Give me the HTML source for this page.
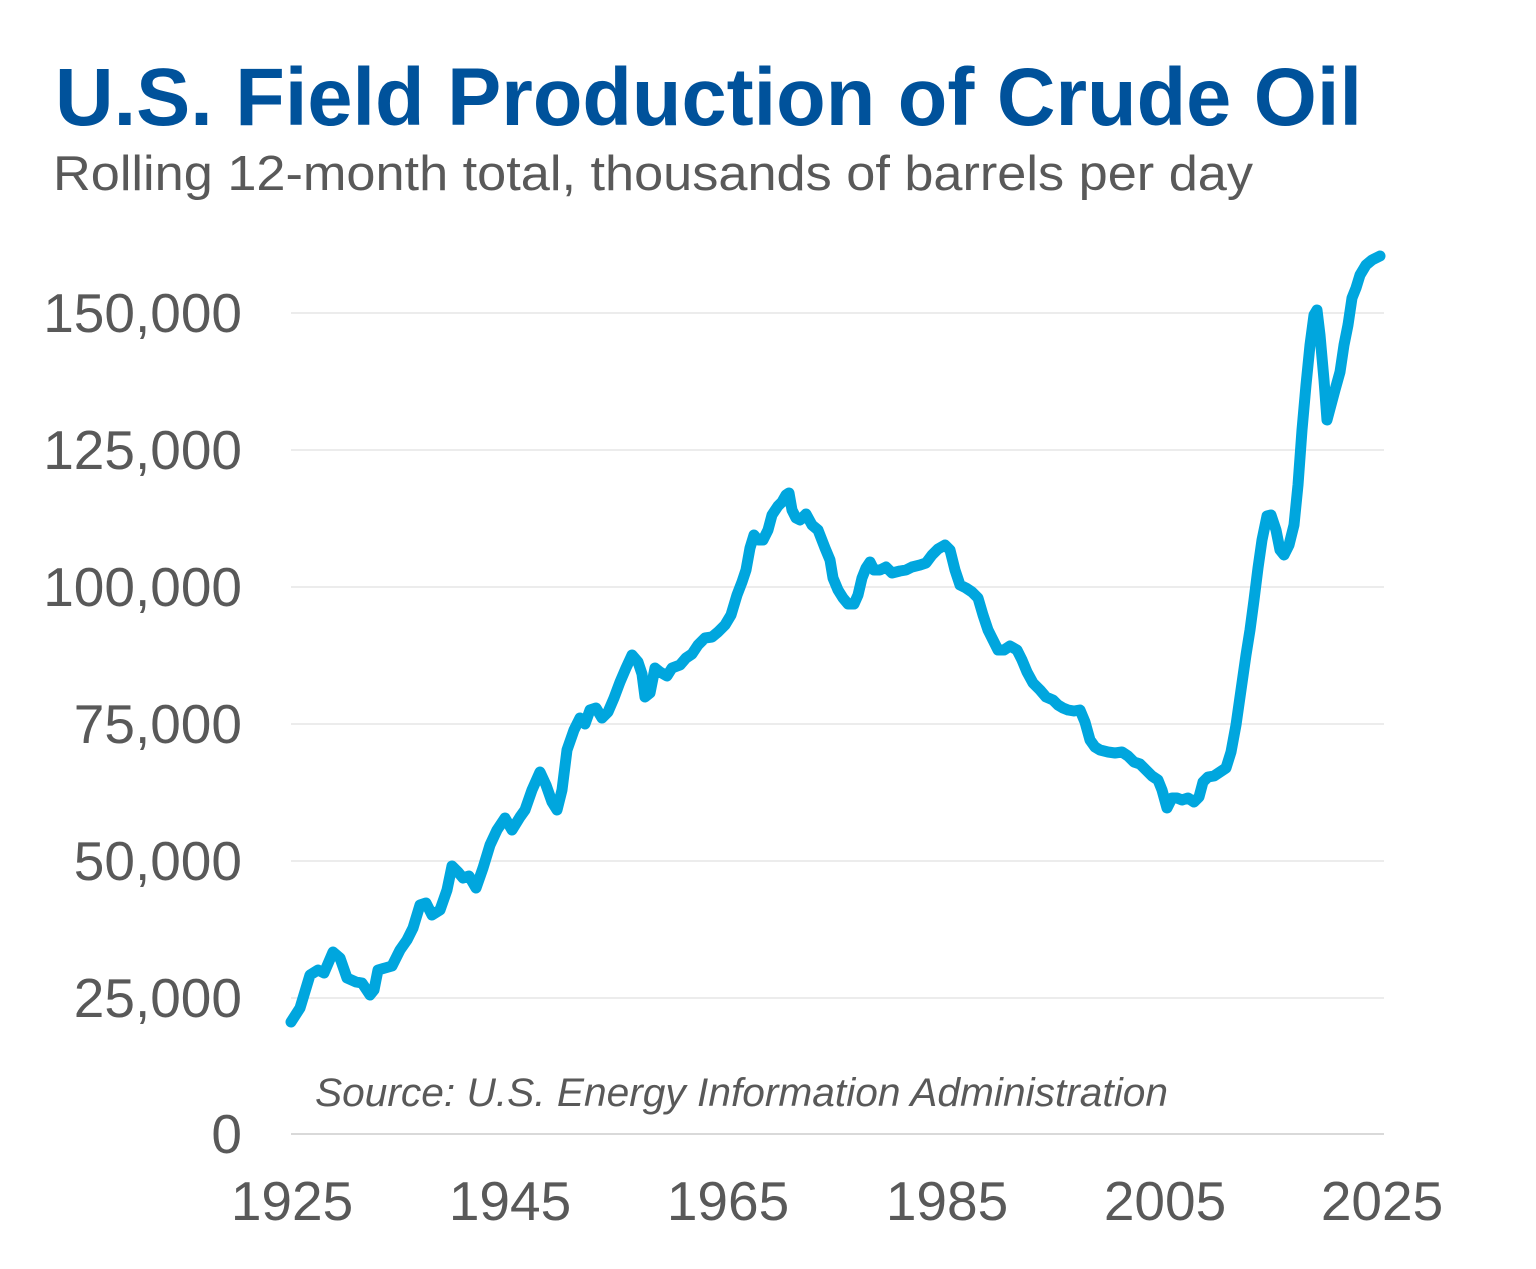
<!DOCTYPE html>
<html><head><meta charset="utf-8"><style>
html,body{margin:0;padding:0;background:#fff;}
svg{display:block;}
text{font-family:"Liberation Sans",Arial,sans-serif;}
</style></head><body>
<svg width="1536" height="1269" viewBox="0 0 1536 1269" xmlns="http://www.w3.org/2000/svg">
<rect width="1536" height="1269" fill="#fff"/>
<text x="55" y="125" font-size="82" font-weight="bold" fill="#00529b" textLength="1307" lengthAdjust="spacingAndGlyphs">U.S. Field Production of Crude Oil</text>
<text x="53" y="190" font-size="49" fill="#595959" textLength="1200" lengthAdjust="spacingAndGlyphs">Rolling 12-month total, thousands of barrels per day</text>
<g stroke="#ececec" stroke-width="2">
<line x1="291" y1="998" x2="1384" y2="998"/>
<line x1="291" y1="861" x2="1384" y2="861"/>
<line x1="291" y1="724" x2="1384" y2="724"/>
<line x1="291" y1="587" x2="1384" y2="587"/>
<line x1="291" y1="450" x2="1384" y2="450"/>
<line x1="291" y1="313" x2="1384" y2="313"/>
</g>
<line x1="291" y1="1134" x2="1384" y2="1134" stroke="#d9d9d9" stroke-width="2"/>
<g font-size="55" fill="#595959" text-anchor="end">
<text x="242" y="1153">0</text>
<text x="242" y="1017">25,000</text>
<text x="242" y="880">50,000</text>
<text x="242" y="743">75,000</text>
<text x="242" y="606">100,000</text>
<text x="242" y="469">125,000</text>
<text x="242" y="332">150,000</text>
</g>
<g font-size="55" fill="#595959" text-anchor="middle">
<text x="292" y="1220">1925</text>
<text x="510" y="1220">1945</text>
<text x="728" y="1220">1965</text>
<text x="947" y="1220">1985</text>
<text x="1165" y="1220">2005</text>
<text x="1382" y="1220">2025</text>
</g>
<text x="315" y="1106" font-size="40" font-style="italic" fill="#595959" textLength="853" lengthAdjust="spacingAndGlyphs">Source: U.S. Energy Information Administration</text>
<polyline fill="none" stroke="#00a6de" stroke-width="11" stroke-linejoin="round" stroke-linecap="round" points="291,1022 300,1008 310,975 318,970 324,973 333,952 340,958 347,978 356,982 362,983 370,995 374,990 378,970 385,968 392,966 400,950 407,940 413,928 420,905 426,903 432,915 440,910 447,890 452,866 458,872 463,878 469,876 476,888 483,868 490,845 497,830 505,818 512,830 520,817 525,810 532,790 540,772 546,785 552,802 557,810 562,790 567,750 574,730 580,718 585,724 590,710 596,708 602,718 608,712 614,698 620,682 626,668 632,655 638,662 642,674 645,697 650,693 655,668 660,672 667,676 672,668 680,665 686,658 692,654 698,645 705,638 712,637 718,632 725,625 731,615 737,595 742,582 746,570 750,548 754,535 758,540 763,540 768,530 772,515 778,506 782,502 786,495 789,493 792,510 796,518 800,520 806,514 812,525 818,530 825,548 830,560 833,578 838,590 843,598 848,604 854,604 858,595 862,578 866,568 870,562 874,570 880,570 886,567 892,573 900,571 906,570 912,567 920,565 926,563 932,555 938,549 945,545 950,550 955,570 960,585 966,588 972,592 978,598 983,615 988,630 993,640 998,650 1004,650 1010,646 1017,650 1022,660 1027,672 1033,683 1040,690 1046,697 1053,700 1058,705 1063,708 1068,710 1074,711 1080,710 1085,722 1090,740 1095,747 1100,750 1108,752 1115,753 1122,752 1128,756 1134,762 1140,764 1146,770 1152,776 1158,780 1162,790 1167,808 1172,798 1177,798 1182,800 1188,798 1194,802 1199,797 1203,782 1208,777 1214,776 1220,772 1226,768 1231,752 1236,725 1241,690 1246,655 1250,630 1254,600 1258,568 1262,540 1267,516 1271,515 1276,530 1280,550 1284,555 1289,545 1294,525 1298,485 1302,430 1306,385 1310,345 1314,315 1317,310 1320,335 1324,380 1327,420 1331,405 1335,390 1340,372 1344,345 1348,325 1352,298 1356,288 1360,275 1366,265 1372,260 1380,256"/>
</svg>
</body></html>
